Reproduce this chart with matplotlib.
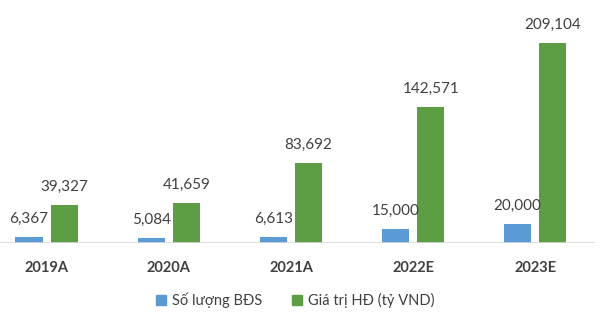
import numpy as np
import matplotlib.pyplot as plt
from matplotlib.patches import Patch

plt.rcParams['font.family'] = ['Lato', 'DejaVu Sans']

# ============================================================
# DATA
# ============================================================

years = ["2019A", "2020A", "2021A", "2022E", "2023E"]
so_luong = [6367, 5084, 6613, 15000, 20000]
gia_tri = [39327, 41659, 83692, 142571, 209104]

series_names = ["Số lượng BĐS", "Giá trị HĐ (tỷ VND)"]
BLUE = "#5B9BD5"
GREEN = "#5D9E44"
TXT = "#404040"

# ============================================================
# PLOT
# ============================================================

fig = plt.figure(figsize=(6.0, 3.28), dpi=100)
ax = fig.add_axes([0.0, 0.259, 0.992, 0.70])

x = np.arange(len(years))
w = 0.222
off = 0.144

b1 = ax.bar(x - off, so_luong, width=w, color=BLUE, zorder=3)
b2 = ax.bar(x + off, gia_tri, width=w, color=GREEN, zorder=3)

for bars, vals in [(b1, so_luong), (b2, gia_tri)]:
    for rect, v in zip(bars, vals):
        ax.annotate(
            f"{v:,}",
            xy=(rect.get_x() + rect.get_width() / 2, rect.get_height()),
            xytext=(0, 8),
            textcoords="offset points",
            ha="center",
            va="bottom",
            fontsize=11,
            color=TXT,
        )

ax.set_xlim(-0.381, 4.49)
ax.set_ylim(0, 240000)
ax.axhline(0, color="#D9D9D9", linewidth=1.2, zorder=4)

for s in ax.spines.values():
    s.set_visible(False)
ax.set_yticks([])
ax.set_xticks(x)
ax.set_xticklabels(years, fontsize=10.5, fontweight="bold", color=TXT)
ax.tick_params(axis="x", length=0, pad=13)

handles = [Patch(color=BLUE), Patch(color=GREEN)]
fig.legend(
    handles,
    series_names,
    loc="center",
    bbox_to_anchor=(0.492, 0.085),
    ncol=2,
    frameon=False,
    fontsize=10.5,
    handlelength=0.7,
    handleheight=0.7,
    handletextpad=0.4,
    columnspacing=2.0,
    labelcolor=TXT,
)

fig.savefig("out.png", dpi=100)
